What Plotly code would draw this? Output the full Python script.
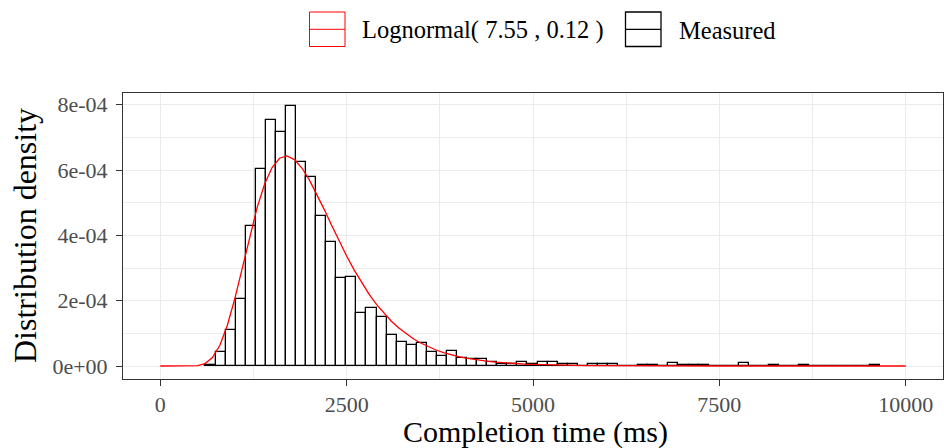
import numpy as np
import plotly.graph_objects as go

# Histogram of completion times (density scale), fixed-width bins
BIN_WIDTH = 135.0
FIRST_EDGE = 606.0
density_e4 = [
    0.03, 0.42, 1.10, 2.04, 4.30, 6.04, 7.54, 7.15, 7.96, 6.26,
    5.80, 4.58, 3.81, 2.69, 2.74, 1.63, 1.77, 1.49, 0.96, 0.74,
    0.65, 0.69, 0.42, 0.32, 0.46, 0.23, 0.21, 0.20, 0.11, 0.06,
    0.05, 0.11, 0.07, 0.11, 0.11, 0.05, 0.07, 0.00, 0.07, 0.05,
    0.05, 0.00, 0.00, 0.04, 0.04, 0.00, 0.08, 0.04, 0.04, 0.04,
    0.00, 0.00, 0.00, 0.08, 0.00, 0.00, 0.04, 0.00, 0.00, 0.04,
    0.00, 0.00, 0.00, 0.00, 0.00, 0.00, 0.04,
]

# Fitted lognormal parameters (meanlog, variance of log)
MEANLOG = 7.55
VARLOG = 0.12
CURVE_FROM, CURVE_TO, CURVE_N = 0.0, 10000.0, 101

x_tick_vals = [0, 2500, 5000, 7500, 10000]
x_tick_text = ["0", "2500", "5000", "7500", "10000"]
y_tick_vals = [0, 2e-4, 4e-4, 6e-4, 8e-4]
y_tick_text = ["0e+00", "2e-04", "4e-04", "6e-04", "8e-04"]

fit_label = f"Lognormal( {MEANLOG:.2f} , {VARLOG:.2f} )"
hist_label = "Measured"

# ---- derived series ----
density = np.array(density_e4) * 1e-4
centers = FIRST_EDGE + BIN_WIDTH * (np.arange(len(density)) + 0.5)

xs = np.linspace(CURVE_FROM, CURVE_TO, CURVE_N)
sdlog = np.sqrt(VARLOG)
ys = np.zeros_like(xs)
pos = xs > 0
ys[pos] = np.exp(-(np.log(xs[pos]) - MEANLOG) ** 2 / (2 * sdlog ** 2)) / (
    xs[pos] * sdlog * np.sqrt(2 * np.pi))

FONT = "Liberation Serif"
W, H = 944, 448
ML, MR, MT, MB = 123, 1, 93, 69
PW = W - ML - MR
PH = H - MT - MB


def xp(px):
    return (px - ML) / PW


def yp(py):
    return (H - MB - py) / PH


fig = go.Figure()
fig.add_trace(go.Bar(
    x=centers, y=density, width=BIN_WIDTH,
    marker=dict(color="white", line=dict(color="black", width=1.3)),
    name=hist_label, showlegend=False,
))
fig.add_trace(go.Scatter(
    x=xs, y=ys, mode="lines",
    line=dict(color="#FF0000", width=1.3),
    name=fit_label, showlegend=False,
))

ymax = float(density.max())
yrange = [-0.05 * ymax, 1.05 * ymax]

axis_common = dict(
    showline=True, mirror=True, linecolor="#333333", linewidth=1,
    ticks="outside", ticklen=6, tickwidth=1, tickcolor="#333333",
    showgrid=True, gridcolor="#EBEBEB", gridwidth=1.1,
    zeroline=False,
    tickfont=dict(family=FONT, size=22, color="#4D4D4D"),
)

fig.update_xaxes(
    range=[-500, 10500], tickmode="array",
    tickvals=x_tick_vals, ticktext=x_tick_text,
    minor=dict(tickvals=[1250, 3750, 6250, 8750], showgrid=True,
               gridcolor="#EBEBEB", gridwidth=0.6, ticks=""),
    **axis_common,
)
fig.update_yaxes(
    range=yrange, tickmode="array",
    tickvals=y_tick_vals, ticktext=y_tick_text,
    minor=dict(tickvals=[1e-4, 3e-4, 5e-4, 7e-4], showgrid=True,
               gridcolor="#EBEBEB", gridwidth=0.6, ticks=""),
    ticklabelstandoff=4,
    **axis_common,
)

shapes = []
annotations = []
# legend keys drawn as outlined boxes with a line through the middle
keys = [
    (309.5, 345.0, "#FF0000", 1.0, fit_label, 360.0),
    (625.5, 661.0, "black", 1.3, hist_label, 676.5),
]
for x0, x1, col, lw, label, tx in keys:
    shapes.append(dict(type="rect", xref="paper", yref="paper",
                       x0=xp(x0), x1=xp(x1), y0=yp(46.5), y1=yp(12.0),
                       line=dict(color=col, width=lw), fillcolor="white"))
    shapes.append(dict(type="line", xref="paper", yref="paper",
                       x0=xp(x0), x1=xp(x1), y0=yp(29.3), y1=yp(29.3),
                       line=dict(color=col, width=lw)))
    annotations.append(dict(text=label, xref="paper", yref="paper",
                            x=xp(tx), y=yp(30.0), xanchor="left",
                            yanchor="middle", showarrow=False,
                            font=dict(family=FONT, size=24.5, color="black")))

annotations.append(dict(text="Completion time (ms)", xref="paper", yref="paper",
                        x=xp(535), y=yp(432), xanchor="center", yanchor="middle",
                        showarrow=False,
                        font=dict(family=FONT, size=30, color="black")))
annotations.append(dict(text="Distribution density", xref="paper", yref="paper",
                        x=xp(25), y=yp(236), xanchor="center", yanchor="middle",
                        textangle=-90, showarrow=False,
                        font=dict(family=FONT, size=32, color="black")))

fig.update_layout(
    width=W, height=H,
    margin=dict(l=ML, r=MR, t=MT, b=MB, pad=0),
    paper_bgcolor="white", plot_bgcolor="white",
    bargap=0, showlegend=False,
    shapes=shapes, annotations=annotations,
    font=dict(family=FONT),
)

fig.write_html("out.html")
